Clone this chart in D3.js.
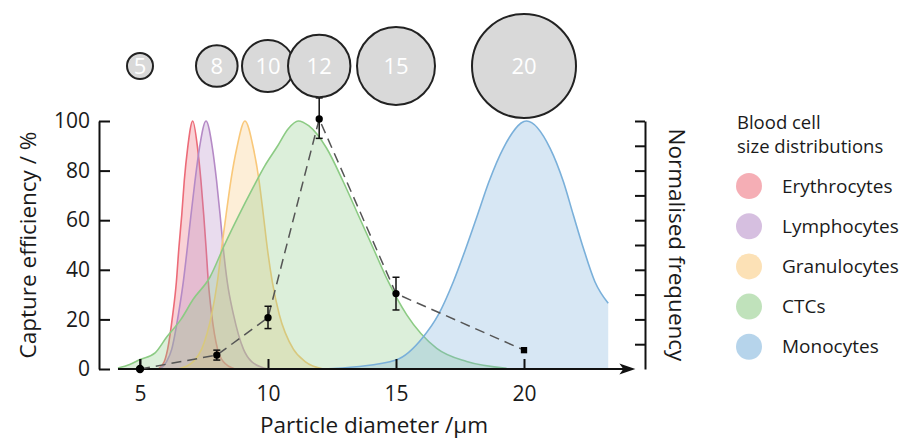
<!DOCTYPE html>
<html>
<head>
<meta charset="utf-8">
<script src="https://cdn.jsdelivr.net/npm/d3@7"></script>
<style>
body { margin: 0; background: #fff; }
text { font-family: "Open Sans", sans-serif; fill: #1a1a1a; }
</style>
</head>
<body>
<script>
// size distributions (diameter in um, normalised frequency in %)
const eryDiam = [5.72, 5.95, 6.08, 6.28, 6.42, 6.52, 6.63, 6.73, 6.86, 7.06, 7.25, 7.38, 7.49, 7.58, 7.67, 7.80, 8.03, 8.25, 8.71];
const eryFreq = [0, 3, 8, 22, 35, 49, 62, 76, 89, 100, 89, 76, 62, 49, 35, 22, 8, 3, 0];
const lymDiam = [5.78, 6.04, 6.24, 6.50, 6.69, 6.85, 6.99, 7.15, 7.32, 7.58, 7.83, 7.99, 8.13, 8.25, 8.41, 8.65, 9.04, 9.36, 10.0];
const lymFreq = [0, 3, 8, 22, 35, 49, 62, 76, 89, 100, 89, 76, 62, 49, 35, 22, 8, 3, 0];
const graDiam = [6.5, 7.08, 7.41, 7.80, 8.02, 8.19, 8.36, 8.55, 8.78, 9.10, 9.43, 9.65, 9.82, 9.97, 10.17, 10.44, 10.99, 11.45, 12.16];
const graFreq = [0, 3, 8, 22, 35, 49, 62, 76, 89, 100, 89, 76, 62, 49, 35, 22, 8, 3, 0];
const ctcDiam = [4.14, 4.6, 5.0, 5.59, 6.05, 6.6, 7.07, 7.73, 8.3, 8.84, 9.41, 9.88, 10.35, 10.8, 11.18, 11.6, 12.29, 12.94, 13.53, 14.11, 14.70, 15.42, 16.59, 17.76, 19.32];
const ctcFreq = [0.4, 1.8, 3.8, 6.5, 13, 20, 28, 37, 50, 61.5, 73, 82, 89.5, 97, 100, 98, 89, 75.5, 62, 48.7, 35.2, 21.8, 8.3, 3, 0.3];
const monDiam = [12.16, 13.46, 15.0, 16.07, 16.65, 17.24, 17.73, 18.18, 18.63, 19.19, 20.1, 21.02, 21.54, 21.93, 22.32, 22.77, 23.29];
const monFreq = [0, 0.9, 3.6, 13, 21.8, 35.2, 48.7, 62, 75.5, 89, 100, 89, 75.5, 62, 48.7, 35.2, 26.5];

const cellNames = ["Erythrocytes", "Lymphocytes", "Granulocytes", "CTCs", "Monocytes"];
const cellColors = ["#ec6b78", "#b58ac6", "#f9c87a", "#8ccb84", "#7ab0da"];

// capture efficiency
const partDiam = [5, 8, 10, 12, 15, 20];
const capEff = [0, 5.6, 20.7, 100.8, 30.4, 7.6];
const errLo = [0, 2, 4.4, 7.8, 6.6, 0];
const errHi = [4, 2, 4.6, 8.5, 6.6, 0];

const xTicks = [5, 10, 15, 20];
const yTicks = [0, 20, 40, 60, 80, 100];
const freqTicks = [10, 20, 30, 40, 50, 60, 70, 80, 90, 100];

const W = 905, H = 439;
const svg = d3.select("body").append("svg").attr("width", W).attr("height", H);

const x = d3.scaleLinear().domain([5, 20]).range([140, 524]);
const y = d3.scaleLinear().domain([0, 100]).range([369, 121]);
const r = d3.scaleLinear().domain([0, 20]).range([0, 52]);

const series = [
  [eryDiam, eryFreq], [lymDiam, lymFreq], [graDiam, graFreq], [ctcDiam, ctcFreq], [monDiam, monFreq]
].map((s, i) => ({ name: cellNames[i], color: cellColors[i], pts: s[0].map((d, j) => [d, s[1][j]]) }));

const area = d3.area().x(d => x(d[0])).y0(y(0)).y1(d => y(d[1])).curve(d3.curveMonotoneX);
const line = d3.line().x(d => x(d[0])).y(d => y(d[1])).curve(d3.curveMonotoneX);

series.forEach(s => {
  svg.append("path").attr("d", area(s.pts)).attr("fill", s.color).attr("fill-opacity", 0.3);
  svg.append("path").attr("d", line(s.pts)).attr("fill", "none").attr("stroke", s.color).attr("stroke-width", 1.6);
});

// x axis
const xAxis = svg.append("g").attr("transform", `translate(0,${y(0)})`)
  .call(d3.axisBottom(x).tickValues(xTicks).tickSize(-10).tickPadding(17).tickFormat(d3.format("d")));
xAxis.select(".domain").remove();
xAxis.selectAll(".tick line").attr("stroke", "#111").attr("stroke-width", 2);
xAxis.selectAll("text").style("font-size", "21px").attr("fill", "#1a1a1a");
svg.append("line").attr("x1", x(4.14)).attr("x2", x(23.9)).attr("y1", y(0)).attr("y2", y(0))
  .attr("stroke", "#111").attr("stroke-width", 2);
svg.append("path").attr("d", "M-16,-5.5L0,0L-16,5.5L-12,0Z").attr("fill", "#111")
  .attr("transform", `translate(${x(24.35)},${y(0)})`);

// left axis
const yAxis = svg.append("g").attr("transform", "translate(99,0)")
  .call(d3.axisLeft(y).tickValues(yTicks).tickSize(-11).tickSizeOuter(0).tickPadding(9));
yAxis.select(".domain").attr("stroke", "#111").attr("stroke-width", 2);
yAxis.selectAll(".tick line").attr("stroke", "#111").attr("stroke-width", 2);
yAxis.selectAll("text").style("font-size", "21px").attr("fill", "#1a1a1a");

// right axis
const rAxis = svg.append("g").attr("transform", "translate(645,0)")
  .call(d3.axisRight(y).tickValues(freqTicks).tickSize(-10).tickSizeOuter(0).tickFormat(""));
rAxis.select(".domain").attr("stroke", "#111").attr("stroke-width", 2);
rAxis.selectAll(".tick line").attr("stroke", "#111").attr("stroke-width", 2);

// capture efficiency line
const cap = partDiam.map((d, i) => ({ d, v: capEff[i], lo: errLo[i], hi: errHi[i], last: i === partDiam.length - 1 }));
svg.append("path").datum(cap)
  .attr("d", d3.line().x(p => x(p.d)).y(p => y(p.v)))
  .attr("fill", "none").attr("stroke", "#555").attr("stroke-width", 1.5).attr("stroke-dasharray", "10,6");

const eb = svg.append("g").selectAll("g").data(cap).join("g");
eb.append("line").attr("x1", p => x(p.d)).attr("x2", p => x(p.d))
  .attr("y1", p => y(Math.max(0, p.v - p.lo))).attr("y2", p => y(p.v + p.hi))
  .attr("stroke", "#111").attr("stroke-width", 1.5);
eb.filter(p => p.lo > 0).each(function (p) {
  const g = d3.select(this);
  [p.v - p.lo, p.v + p.hi].forEach(v => {
    g.append("line").attr("x1", x(p.d) - 3.5).attr("x2", x(p.d) + 3.5).attr("y1", y(v)).attr("y2", y(v))
      .attr("stroke", "#111").attr("stroke-width", 1.5);
  });
});
eb.append("path")
  .attr("d", p => d3.symbol().type(p.last ? d3.symbolSquare : d3.symbolCircle).size(p.last ? 40 : (p.d === 5 ? 55 : 42))())
  .attr("transform", p => `translate(${x(p.d)},${y(p.v)})`).attr("fill", "#000");

// particle circles
const pc = svg.append("g").selectAll("g").data(partDiam).join("g")
  .attr("transform", d => `translate(${x(d)},66)`);
pc.append("circle").attr("r", d => r(d)).attr("fill", "#d9d9d9").attr("stroke", "#222").attr("stroke-width", 2);
pc.append("text").attr("text-anchor", "middle").attr("dy", "0.36em").style("font-size", "22px")
  .style("fill", "#fff").text(d => d);

// axis titles
svg.append("text").attr("transform", "translate(28,245) rotate(-90)").attr("text-anchor", "middle")
  .attr("dy", "0.35em").style("font-size", "22.5px").text("Capture efficiency / %");
svg.append("text").attr("transform", "translate(677,245) rotate(90)").attr("text-anchor", "middle")
  .attr("dy", "0.35em").style("font-size", "22.5px").text("Normalised frequency");
svg.append("text").attr("x", 374).attr("y", 433).attr("text-anchor", "middle")
  .style("font-size", "22.5px").text("Particle diameter /µm");

// legend
const lg = svg.append("g");
lg.append("text").attr("x", 737).attr("y", 129).style("font-size", "18.5px").text("Blood cell");
lg.append("text").attr("x", 737).attr("y", 153).style("font-size", "18.5px").text("size distributions");
const li = lg.selectAll("g.item").data(series).join("g").attr("class", "item")
  .attr("transform", (s, i) => `translate(749,${186 + i * 40.2})`);
li.append("circle").attr("r", 13).attr("fill", s => s.color).attr("fill-opacity", 0.55);
li.append("text").attr("x", 33).attr("dy", "0.35em").style("font-size", "19px").text(s => s.name);
</script>
</body>
</html>
